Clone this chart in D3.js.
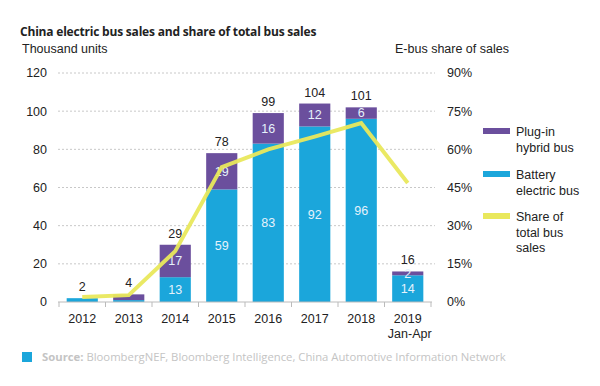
<!DOCTYPE html>
<html>
<head>
<meta charset="utf-8">
<style>
body { margin: 0; background: #fff; }
svg { font-family: "Liberation Sans", Arial, sans-serif; }
.grid line { stroke: #c8c8c8; stroke-dasharray: 2,2; }
.title { font-family: "Open Sans", sans-serif; font-weight: bold; font-size: 12px; fill: #222; letter-spacing: -0.2px; }
.lbl { font-size: 12.5px; fill: #222; }
.inner { font-size: 12.5px; fill: #e6f2fb; }
.src { font-family: "Open Sans", sans-serif; font-size: 11.3px; fill: #c4c4c4; }
</style>
</head>
<body>
<script src="https://cdn.jsdelivr.net/npm/d3@7"></script>
<script>

var years = ["2012", "2013", "2014", "2015", "2016", "2017", "2018", "2019"];
var battery = [2, 1, 13, 59, 83, 92, 96, 14];
var plugin = [0, 3, 17, 19, 16, 12, 6, 2];
var totals = [2, 4, 29, 78, 99, 104, 101, 16];
var share = [0.02, 0.027, 0.2, 0.53, 0.6, 0.65, 0.703, 0.468];
var leftTicks = [0, 20, 40, 60, 80, 100, 120];
var rightTicks = [0, 0.15, 0.3, 0.45, 0.6, 0.75, 0.9];
var innerLabelled = ["2014", "2015", "2016", "2017", "2018", "2019"];

var blue = "#1ba6db", purple = "#6b4f9d", yellow = "#e9e85c";

var svg = d3.select("body").append("svg")
    .attr("width", 600)
    .attr("height", 386);

var x = d3.scaleBand()
    .domain(years)
    .range([59, 431])
    .paddingInner(0.33)
    .paddingOuter(0.165);

var y = d3.scaleLinear().domain([0, 120]).range([302, 73]);
var y2 = d3.scaleLinear().domain([0, 0.9]).range([302, 73]);

// title and axis captions
svg.append("text").attr("class", "title").attr("x", 20).attr("y", 36)
    .text("China electric bus sales and share of total bus sales");
svg.append("text").attr("class", "lbl").attr("x", 22).attr("y", 53).text("Thousand units");
svg.append("text").attr("class", "lbl").attr("x", 395).attr("y", 53).text("E-bus share of sales");

// gridlines
svg.append("g").attr("class", "grid")
  .selectAll("line")
  .data(leftTicks.slice(1))
  .enter().append("line")
    .attr("x1", 58).attr("x2", 435)
    .attr("y1", function(d) { return y(d); })
    .attr("y2", function(d) { return y(d); });

// left axis labels
svg.append("g").selectAll("text")
  .data(leftTicks)
  .enter().append("text")
    .attr("class", "lbl")
    .attr("x", 47)
    .attr("y", function(d) { return y(d); })
    .attr("dy", "0.35em")
    .attr("text-anchor", "end")
    .text(function(d) { return d; });

// right axis labels
svg.append("g").selectAll("text")
  .data(rightTicks)
  .enter().append("text")
    .attr("class", "lbl")
    .attr("x", 447)
    .attr("y", function(d) { return y2(d); })
    .attr("dy", "0.35em")
    .text(function(d) { return Math.round(d * 100) + "%"; });

// stacked bars
var rows = years.map(function(yr, i) {
  return { year: yr, bev: battery[i], phev: plugin[i], total: totals[i] };
});

var bars = svg.append("g").selectAll("g")
  .data(rows)
  .enter().append("g");

bars.append("rect")
    .attr("x", function(d) { return x(d.year); })
    .attr("width", x.bandwidth())
    .attr("y", function(d) { return y(d.bev); })
    .attr("height", function(d) { return y(0) - y(d.bev); })
    .attr("fill", blue);

bars.append("rect")
    .attr("x", function(d) { return x(d.year); })
    .attr("width", x.bandwidth())
    .attr("y", function(d) { return y(d.bev + d.phev); })
    .attr("height", function(d) { return y(d.bev) - y(d.bev + d.phev); })
    .attr("fill", purple);

// x axis baseline and ticks
var axis = svg.append("g").attr("transform", "translate(0,302)");
axis.append("line").attr("x1", 58).attr("x2", 432).attr("stroke", "#bbb");
axis.selectAll(".tk")
  .data(years.concat(["end"]))
  .enter().append("line")
    .attr("class", "tk")
    .attr("x1", function(d, i) { return 59 + i * x.step(); })
    .attr("x2", function(d, i) { return 59 + i * x.step(); })
    .attr("y1", 0).attr("y2", 5)
    .attr("stroke", "#bbb");

axis.selectAll(".yr")
  .data(years)
  .enter().append("text")
    .attr("class", "lbl yr")
    .attr("x", function(d) { return x(d) + x.bandwidth() / 2; })
    .attr("y", 21)
    .attr("text-anchor", "middle")
    .text(function(d) { return d; });
axis.append("text").attr("class", "lbl")
    .attr("x", x("2019") + x.bandwidth() / 2 + 2)
    .attr("y", 36)
    .attr("text-anchor", "middle")
    .text("Jan-Apr");

// share line
var line = d3.line()
    .x(function(d, i) { return x(years[i]) + x.bandwidth() / 2; })
    .y(function(d) { return y2(d); });

svg.append("path")
    .datum(share)
    .attr("d", line)
    .attr("fill", "none")
    .attr("stroke", yellow)
    .attr("stroke-width", 4)
    .attr("stroke-linejoin", "miter")
    .attr("opacity", 0.95);

// labels
bars.append("text")
    .attr("class", "lbl")
    .attr("x", function(d) { return x(d.year) + x.bandwidth() / 2; })
    .attr("y", function(d) { return y(d.bev + d.phev) - 7; })
    .attr("text-anchor", "middle")
    .text(function(d) { return d.total; });

var lab = bars.filter(function(d) { return innerLabelled.indexOf(d.year) >= 0; });
lab.append("text")
    .attr("class", "inner")
    .attr("x", function(d) { return x(d.year) + x.bandwidth() / 2; })
    .attr("y", function(d) { return y(d.bev / 2); })
    .attr("dy", "0.35em")
    .attr("text-anchor", "middle")
    .text(function(d) { return d.bev; });
lab.append("text")
    .attr("class", "inner")
    .attr("x", function(d) { return x(d.year) + x.bandwidth() / 2; })
    .attr("y", function(d) { return y(d.bev + d.phev / 2); })
    .attr("dy", "0.35em")
    .attr("text-anchor", "middle")
    .text(function(d) { return d.phev; });

// legend
var legend = [
  { color: purple, lines: ["Plug-in", "hybrid bus"], y: 131 },
  { color: blue, lines: ["Battery", "electric bus"], y: 174 },
  { color: yellow, lines: ["Share of", "total bus", "sales"], y: 216 }
];
var lg = svg.append("g").selectAll("g")
  .data(legend)
  .enter().append("g");
lg.append("rect")
    .attr("x", 483).attr("width", 27)
    .attr("y", function(d) { return d.y - 3; })
    .attr("height", 6)
    .attr("fill", function(d) { return d.color; });
lg.each(function(d) {
  var g = d3.select(this);
  d.lines.forEach(function(t, i) {
    g.append("text").attr("class", "lbl")
        .attr("x", 516)
        .attr("y", d.y + 5 + i * 15.5)
        .text(t);
  });
});

// source
svg.append("rect").attr("x", 22).attr("y", 352).attr("width", 10).attr("height", 10).attr("fill", blue);
var src = svg.append("text").attr("class", "src").attr("x", 42).attr("y", 361);
src.append("tspan").attr("font-weight", "bold").text("Source: ");
src.append("tspan").text("BloombergNEF, Bloomberg Intelligence, China Automotive Information Network");

</script>
</body>
</html>
